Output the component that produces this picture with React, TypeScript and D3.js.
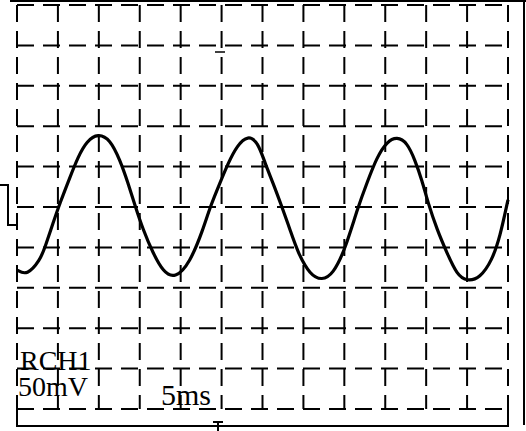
import React from "react";
import * as d3 from "d3";

// Time (ms) and voltage (mV)
const timeMs = [0, 1.22, 2.81, 3.42, 4.4, 5.25, 6.48, 7.45, 8.55, 9.9, 11.37, 12.59, 13.56, 14.42, 15.4, 16.62, 17.84, 19.31, 21.14, 22.73, 23.59, 24.81, 25.79, 26.88, 28.23, 29.45, 30.31, 31.28, 32.38, 33.36, 34.34, 35.81, 37.27, 38.62, 40.08, 41.67, 42.77, 43.99, 45.21, 46.44, 47.66, 48.64, 49.49, 50.23, 51.33, 52.55, 53.77, 54.99, 56.58, 58.05, 59.02, 60];
const voltageMv = [-78, -85, -66, -50, -20, 5, 37, 62, 82, 91, 84, 58, 30, 2, -28, -57, -80, -89, -69, -28, 0, 30, 54, 76, 89, 80, 54, 30, 0, -28, -57, -84, -91, -83, -53, 0, 30, 62, 81, 87, 80, 58, 33, 5, -28, -57, -84, -92, -88, -66, -37, 9];

const xDivisions = d3.range(0, 13); // 12 horizontal divisions
const yDivisions = d3.range(-5, 6); // 10 vertical divisions
const msPerDiv = 5;
const mvPerDiv = 50;
const channelLabel = "RCH1";
const voltsLabel = "50mV";
const timeLabel = "5ms";

export default function App() {
  const W = 526, H = 431;
  const x = d3.scaleLinear().domain([0, 12 * msPerDiv]).range([17, 508]);
  const y = d3.scaleLinear().domain([-5 * mvPerDiv, 5 * mvPerDiv]).range([409, 5]);
  const pts = timeMs.map((t, i) => [x(t), y(voltageMv[i])] as [number, number]);
  const line = d3.line().curve(d3.curveBasis)(pts) || "";
  const font = "'Liberation Serif', 'Times New Roman', serif";
  const dash = "17 9";
  return (
    <svg width={W} height={H} style={{ position: "absolute", left: 0, top: 0, background: "#fff" }}>
      <rect x={0} y={0} width={W} height={H} fill="#fff" />
      {/* grid */}
      {xDivisions.map((d) => (
        <line key={"v" + d} x1={x(d * msPerDiv)} x2={x(d * msPerDiv)} y1={y(5 * mvPerDiv)} y2={y(-5 * mvPerDiv)}
          stroke="#000" strokeWidth={2} strokeDasharray={dash} />
      ))}
      {yDivisions.map((d) => (
        <line key={"h" + d} x1={x(0)} x2={x(12 * msPerDiv)} y1={y(d * mvPerDiv)} y2={y(d * mvPerDiv)}
          stroke="#000" strokeWidth={2} strokeDasharray={dash} />
      ))}
      {/* frame */}
      <line x1={10} x2={526} y1={1} y2={1} stroke="#000" strokeWidth={2} />
      <line x1={524} x2={524} y1={0} y2={425} stroke="#000" strokeWidth={2} />
      <line x1={16} x2={509} y1={426} y2={426} stroke="#000" strokeWidth={2} />
      <line x1={x(60)} x2={x(60)} y1={y(-250)} y2={426} stroke="#000" strokeWidth={2} />
      <line x1={x(0)} x2={x(0)} y1={y(-250)} y2={426} stroke="#000" strokeWidth={2} />
      {/* ground marker */}
      <path d={`M0,185 H8 V225 H16`} fill="none" stroke="#000" strokeWidth={2} />
      {/* trigger marker */}
      <path d={`M213,422 H223 M218,422 V431`} fill="none" stroke="#000" strokeWidth={2} />
      <line x1={215} x2={225} y1={52} y2={52} stroke="#000" strokeWidth={1.5} />
      {/* trace */}
      <path d={line} fill="none" stroke="#000" strokeWidth={3.2} strokeLinejoin="round" />
      {/* labels */}
      <text x={20} y={370} fontFamily={font} fontSize={28} fill="#000">{channelLabel}</text>
      <text x={18} y={396} fontFamily={font} fontSize={28} fill="#000">{voltsLabel}</text>
      <text x={161} y={405} fontFamily={font} fontSize={30} fill="#000">{timeLabel}</text>
    </svg>
  );
}
